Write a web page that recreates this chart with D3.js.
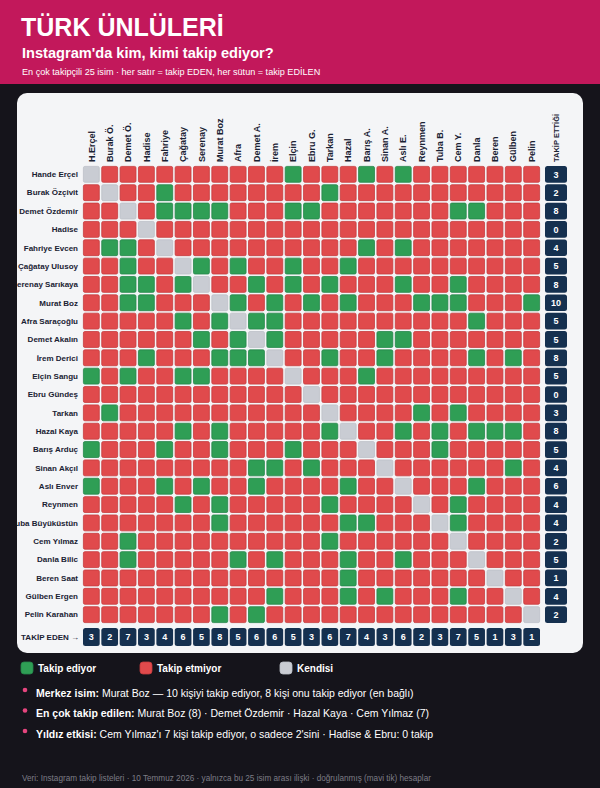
<!DOCTYPE html>
<html><head><meta charset="utf-8">
<script src="https://cdn.jsdelivr.net/npm/d3@7"></script>
<style>
html,body{margin:0;padding:0;background:#15141b;}
svg{display:block;font-family:"Liberation Sans",Arial,Helvetica,sans-serif;}
</style></head>
<body>
<svg id="chart" width="600" height="788"></svg>
<script>
// ---- DATA ----
const rowNames = ["Hande Erçel","Burak Özçivit","Demet Özdemir","Hadise","Fahriye Evcen","Çağatay Ulusoy","Serenay Sarıkaya","Murat Boz","Afra Saraçoğlu","Demet Akalın","İrem Derici","Elçin Sangu","Ebru Gündeş","Tarkan","Hazal Kaya","Barış Arduç","Sinan Akçıl","Aslı Enver","Reynmen","Tuba Büyüküstün","Cem Yılmaz","Danla Bilic","Beren Saat","Gülben Ergen","Pelin Karahan"];
const colNames = ["H.Erçel","Burak Ö.","Demet Ö.","Hadise","Fahriye","Çağatay","Serenay","Murat Boz","Afra","Demet A.","İrem","Elçin","Ebru G.","Tarkan","Hazal","Barış A.","Sinan A.","Aslı E.","Reynmen","Tuba B.","Cem Y.","Danla","Beren","Gülben","Pelin"];
// for each row (follower): indices of columns they follow
const follows = [
  [11,15,17],
  [4,13],
  [4,5,6,7,11,12,20,21],
  [],
  [1,2,15,17],
  [2,6,8,11,14],
  [2,3,5,9,11,13,17,20],
  [2,3,8,10,12,14,18,19,20,24],
  [5,7,9,10,21],
  [6,8,10,16,17],
  [3,7,8,9,13,16,21,23],
  [0,2,5,6,15],
  [],
  [1,18,20],
  [5,7,13,17,19,21,22,23],
  [0,4,7,11,19],
  [9,10,12,23],
  [0,4,6,9,14,21],
  [5,7,13,20],
  [7,14,15,20],
  [2,13],
  [2,8,10,14,17],
  [14],
  [10,14,16,20],
  [7,9]
];
const legendLabels = ["Takip ediyor","Takip etmiyor","Kendisi"];
const notes = [
  ["Merkez isim:", " Murat Boz — 10 kişiyi takip ediyor, 8 kişi onu takip ediyor (en bağlı)"],
  ["En çok takip edilen:", " Murat Boz (8) · Demet Özdemir · Hazal Kaya · Cem Yılmaz (7)"],
  ["Yıldız etkisi:", " Cem Yılmaz'ı 7 kişi takip ediyor, o sadece 2'sini · Hadise & Ebru: 0 takip"]
];

// ---- STYLE ----
const C = {green:"#2f9e55", greenS:"#24874a", red:"#e04a4c", redS:"#c63b3e", gray:"#c9ccd3", grayS:"#bcc0c8",
  navy:"#15304f", header:"#c2185b", card:"#f4f5f7", text:"#1a2233"};

const svg = d3.select("#chart");
svg.append("rect").attr("width",600).attr("height",788).attr("fill","#15141b");
svg.append("rect").attr("width",600).attr("height",84).attr("fill",C.header);
svg.append("text").attr("x",21).attr("y",36).attr("fill","#fff").attr("font-size",25).attr("font-weight","bold").text("TÜRK ÜNLÜLERİ");
svg.append("text").attr("x",22).attr("y",58).attr("fill","#fff").attr("font-size",14.6).attr("font-weight","bold").text("Instagram'da kim, kimi takip ediyor?");
svg.append("text").attr("x",22).attr("y",75).attr("fill","#fff").attr("font-size",9.1).text("En çok takipçili 25 isim · her satır = takip EDEN, her sütun = takip EDİLEN");

// card
svg.append("defs").append("clipPath").attr("id","cardclip")
  .append("rect").attr("x",17).attr("y",93).attr("width",566).attr("height",560).attr("rx",10);
svg.append("rect").attr("x",17).attr("y",93).attr("width",566).attr("height",560).attr("rx",10).attr("fill",C.card);
const card = svg.append("g").attr("clip-path","url(#cardclip)");

const n = rowNames.length;
const x = d3.scaleBand().domain(d3.range(n)).range([83,540]).paddingInner(0.09);
const y = d3.scaleBand().domain(d3.range(n)).range([166,623]).paddingInner(0.09);
const bw = x.bandwidth();

const cells = [];
for (let r=0;r<n;r++) for (let c=0;c<n;c++) {
  cells.push({r,c,state: r===c ? "self" : (follows[r].includes(c) ? "yes" : "no")});
}
const fill = s => s==="self"?C.gray:(s==="yes"?C.green:C.red);
const stroke = s => s==="self"?C.grayS:(s==="yes"?C.greenS:C.redS);

card.append("g").selectAll("rect").data(cells).join("rect")
  .attr("x",d=>x(d.c)+0.4).attr("y",d=>y(d.r)+0.4)
  .attr("width",bw-0.8).attr("height",y.bandwidth()-0.8).attr("rx",1.5)
  .attr("fill",d=>fill(d.state)).attr("stroke",d=>stroke(d.state)).attr("stroke-width",0.8);

// row labels
card.append("g").selectAll("text").data(rowNames).join("text")
  .attr("x",78).attr("y",(d,i)=>y(i)+y.bandwidth()/2).attr("dy","0.35em")
  .attr("text-anchor","end").attr("font-size",8).attr("font-weight","bold").attr("fill",C.text).text(d=>d);

// col labels
card.append("g").selectAll("text").data(colNames).join("text")
  .attr("transform",(d,i)=>`translate(${x(i)+bw/2},162) rotate(-90)`).attr("dy","0.35em")
  .attr("text-anchor","start").attr("font-size",9).attr("font-weight","bold").attr("fill",C.text).text(d=>d);

// row totals
const rowTot = follows.map(f=>f.length);
const tx = 556, tw = 22;
card.append("text").attr("transform",`translate(${tx},162) rotate(-90)`).attr("dy","0.35em")
  .attr("font-size",7.5).attr("font-weight","bold").attr("fill",C.text).text("TAKİP ETTİĞİ");
const rt = card.append("g").selectAll("g").data(rowTot).join("g");
rt.append("rect").attr("x",tx-tw/2).attr("y",(d,i)=>y(i)).attr("width",tw).attr("height",y.bandwidth()).attr("rx",2.5).attr("fill",C.navy);
rt.append("text").attr("x",tx).attr("y",(d,i)=>y(i)+y.bandwidth()/2).attr("dy","0.36em").attr("text-anchor","middle")
  .attr("fill","#fff").attr("font-size",9).attr("font-weight","bold").text(d=>d);

// column totals
const colTot = d3.range(n).map(c=>follows.filter(f=>f.includes(c)).length);
const cy0 = 628, ch = 18;
card.append("text").attr("x",79).attr("y",cy0+ch/2).attr("dy","0.35em").attr("text-anchor","end")
  .attr("font-size",8).attr("font-weight","bold").attr("fill",C.text).text("TAKİP EDEN →");
const ct = card.append("g").selectAll("g").data(colTot).join("g");
ct.append("rect").attr("x",(d,i)=>x(i)).attr("y",cy0).attr("width",bw).attr("height",ch).attr("rx",2.5).attr("fill",C.navy);
ct.append("text").attr("x",(d,i)=>x(i)+bw/2).attr("y",cy0+ch/2).attr("dy","0.36em").attr("text-anchor","middle")
  .attr("fill","#fff").attr("font-size",9).attr("font-weight","bold").text(d=>d);

// legend
const legX = [21,140,280];
const legF = [C.green,C.red,C.gray], legS=[C.greenS,C.redS,C.grayS];
const lg = svg.append("g").selectAll("g").data(legendLabels).join("g").attr("transform",(d,i)=>`translate(${legX[i]},662)`);
lg.append("rect").attr("width",12).attr("height",12).attr("rx",3).attr("fill",(d,i)=>legF[i]).attr("stroke",(d,i)=>legS[i]).attr("stroke-width",0.8);
lg.append("text").attr("x",17).attr("y",6).attr("dy","0.35em").attr("fill","#fff").attr("font-size",10).attr("font-weight","bold").text(d=>d);

// notes
const ng = svg.append("g").selectAll("g").data(notes).join("g").attr("transform",(d,i)=>`translate(0,${693+i*20.5})`);
ng.append("circle").attr("cx",25).attr("cy",-3).attr("r",2.3).attr("fill","#e5457e");
const nt = ng.append("text").attr("x",36).attr("y",0).attr("dy","0.35em").attr("fill","#fff").attr("font-size",10.5);
nt.append("tspan").attr("font-weight","bold").text(d=>d[0]);
nt.append("tspan").text(d=>d[1]);

svg.append("text").attr("x",22).attr("y",781).attr("fill","#7d7d86").attr("font-size",8.2)
  .text("Veri: Instagram takip listeleri · 10 Temmuz 2026 · yalnızca bu 25 isim arası ilişki · doğrulanmış (mavi tik) hesaplar");
</script>
</body></html>
